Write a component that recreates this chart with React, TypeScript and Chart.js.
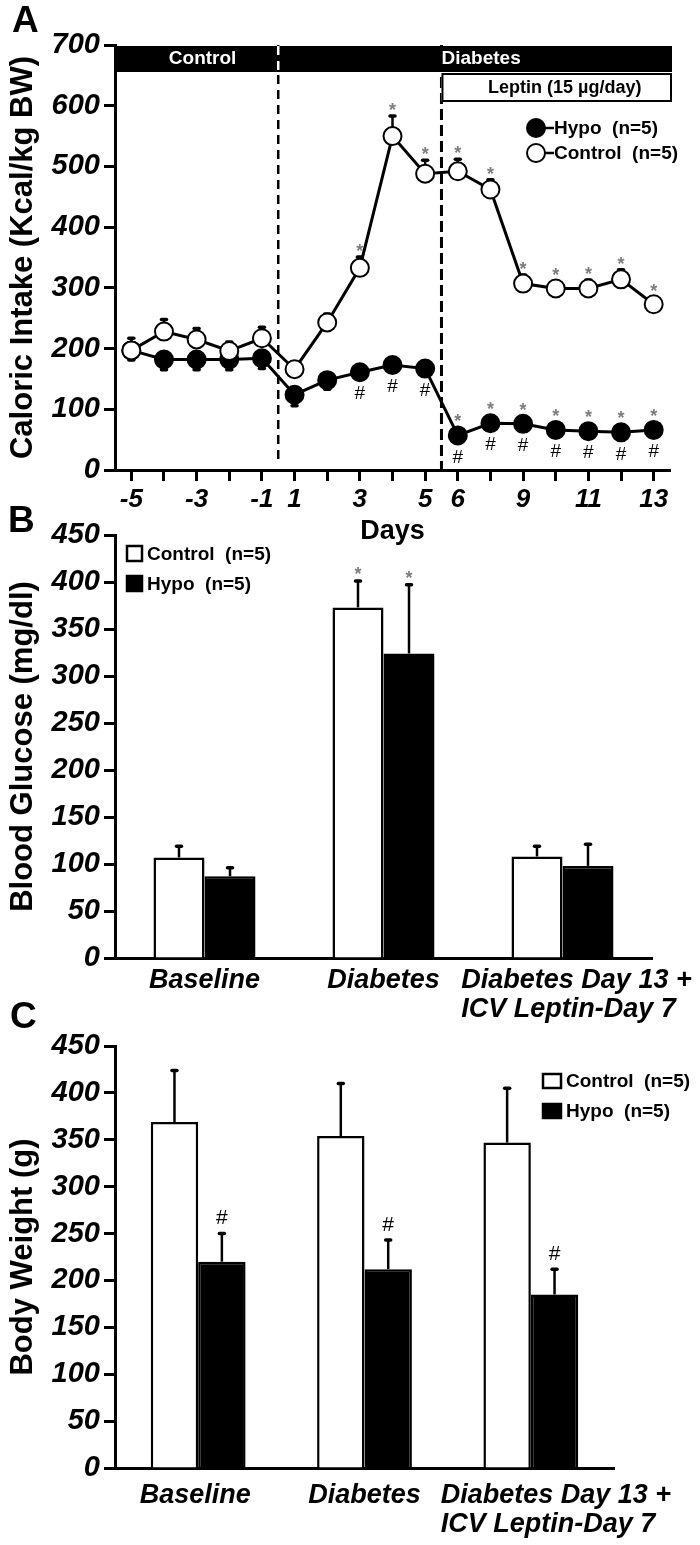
import React, { useEffect, useRef } from 'react';
import { Chart, registerables } from 'chart.js';

Chart.register(...registerables);

const FONT = '"Liberation Sans", Arial, Helvetica, sans-serif';

// ---------------- Panel A: caloric intake ----------------
const dayLabels = ['-5', '-4', '-3', '-2', '-1', '1', '2', '3', '4', '5', '6', '8', '9', '10', '11', '12', '13'];
const dayTickLabels = ['-5', '-3', '-1', '1', '3', '5', '6', '9', '11', '13'];
const diabetesAfterDay = '-1';
const leptinAfterDay = '5';
const hypoIntake = [197, 182, 182, 182, 184, 124, 148, 161, 173, 167, 57, 77, 76, 66, 64, 62, 66];
const hypoIntakeErr = [16, 17, 17, 17, 17, 18, 15, 12, 12, 12, 10, 10, 10, 10, 10, 10, 10];
const hypoIntakeStars = ['', '', '', '', '', '', '', '', '', '', '*', '*', '*', '*', '*', '*', '*'];
const hypoIntakeHashes = ['', '', '', '', '', '', '', '#', '#', '#', '#', '#', '#', '#', '#', '#', '#'];
const controlIntake = [197, 228, 215, 196, 217, 166, 243, 333, 550, 488, 492, 462, 307, 299, 299, 314, 273];
const controlIntakeErr = [20, 20, 18, 15, 18, 12, 14, 18, 33, 22, 20, 16, 14, 12, 14, 16, 12];
const controlIntakeStars = ['', '', '', '', '', '', '', '*', '*', '*', '*', '*', '*', '*', '*', '*', '*'];

// ---------------- Panel B: blood glucose ----------------
const groupLabels = [['Baseline'], ['Diabetes'], ['Diabetes Day 13 +', 'ICV Leptin-Day 7']];
const glucoseControl = [107, 373, 108];
const glucoseControlErr = [12, 28, 11];
const glucoseControlStars = ['', '*', ''];
const glucoseHypo = [87, 324, 98];
const glucoseHypoErr = [9, 73, 23];
const glucoseHypoStars = ['', '*', ''];

// ---------------- Panel C: body weight ----------------
const weightControl = [369, 354, 347];
const weightControlErr = [55, 56, 58];
const weightHypo = [220, 212, 185];
const weightHypoErr = [30, 31, 27];
const weightHypoHashes = ['#', '#', '#'];

const tickFont = (size: number) => ({ family: FONT, size, style: 'italic' as const, weight: 'bold' as const });

function yAxis(max: number, step: number, title: string) {
  return {
    min: 0,
    max,
    ticks: { stepSize: step, color: '#000', font: tickFont(29), padding: 4 },
    grid: { display: true, drawOnChartArea: false, drawTicks: true, tickLength: 11, tickWidth: 3, tickColor: '#000' },
    border: { display: true, color: '#000', width: 3 },
    title: {
      display: true,
      text: title,
      color: '#000',
      font: { family: FONT, size: 31, weight: 'bold' as const },
      padding: { top: 5, bottom: 0 },
    },
    afterFit: (s: any) => {
      s.width = 115;
    },
  };
}

function barXAxis(height: number) {
  return {
    grid: { display: false },
    border: { display: true, color: '#000', width: 3 },
    ticks: { display: false },
    afterFit: (s: any) => {
      s.height = height;
    },
  };
}

// error bars + significance marks, positioned through the y scale
const errorBarsPlugin = {
  id: 'errorBars',
  beforeDatasetsDraw(chart: any) {
    const { ctx } = chart;
    const ys = chart.scales.y;
    chart.data.datasets.forEach((ds: any, i: number) => {
      if (!ds.errors) return;
      const meta = chart.getDatasetMeta(i);
      meta.data.forEach((el: any, j: number) => {
        const v = ds.data[j];
        const e = ds.errors[j];
        const y0 = ys.getPixelForValue(v);
        const y1 = ys.getPixelForValue(v + ds.errorDir * e);
        ctx.save();
        ctx.strokeStyle = '#000';
        ctx.lineWidth = 2.5;
        ctx.beginPath();
        ctx.moveTo(el.x, y0);
        ctx.lineTo(el.x, y1);
        ctx.stroke();
        ctx.lineWidth = 3.5;
        ctx.lineCap = 'round';
        ctx.beginPath();
        ctx.moveTo(el.x - 2.5, y1);
        ctx.lineTo(el.x + 2.5, y1);
        ctx.stroke();
        ctx.restore();
      });
    });
  },
  afterDatasetsDraw(chart: any) {
    const { ctx } = chart;
    const ys = chart.scales.y;
    chart.data.datasets.forEach((ds: any, i: number) => {
      const meta = chart.getDatasetMeta(i);
      meta.data.forEach((el: any, j: number) => {
        const v = ds.data[j];
        const e = ds.errors ? ds.errors[j] : 0;
        const yPoint = ys.getPixelForValue(v);
        const yTop = ys.getPixelForValue(v + Math.max(0, ds.errorDir || 0) * e);
        const drawMark = (m: string, y: number) => {
          ctx.save();
          ctx.textAlign = 'center';
          ctx.textBaseline = 'middle';
          if (m === '*') {
            ctx.fillStyle = '#7d7d7d';
            ctx.font = `bold 18px ${FONT}`;
          } else {
            ctx.fillStyle = '#000';
            ctx.font = `${ds.hashSize || 19}px ${FONT}`;
          }
          ctx.fillText(m, el.x, y);
          ctx.restore();
        };
        const top = ds.topMarks && ds.topMarks[j];
        if (top) drawMark(top, yTop - ds.topMarkGap);
        const bottom = ds.bottomMarks && ds.bottomMarks[j];
        if (bottom) drawMark(bottom, yPoint + ds.bottomMarkGap);
      });
    });
  },
};

function drawLetter(ctx: CanvasRenderingContext2D, letter: string, x: number, y: number) {
  ctx.save();
  ctx.fillStyle = '#000';
  ctx.font = `bold 37px ${FONT}`;
  ctx.textAlign = 'left';
  ctx.textBaseline = 'alphabetic';
  ctx.fillText(letter, x, y);
  ctx.restore();
}

const panelAPlugin = {
  id: 'panelA',
  beforeDatasetsDraw(chart: any) {
    const { ctx, chartArea: ca } = chart;
    const xs = chart.scales.x;
    const iD = dayLabels.indexOf(diabetesAfterDay);
    const iL = dayLabels.indexOf(leptinAfterDay);
    const xD = (xs.getPixelForValue(iD) + xs.getPixelForValue(iD + 1)) / 2;
    const xL = (xs.getPixelForValue(iL) + xs.getPixelForValue(iL + 1)) / 2;
    ctx.save();
    ctx.strokeStyle = '#000';
    ctx.setLineDash([9, 6]);
    ctx.lineWidth = 2.5;
    ctx.beginPath();
    ctx.moveTo(xD, ca.top);
    ctx.lineTo(xD, ca.bottom - 5);
    ctx.stroke();
    ctx.setLineDash([11, 5]);
    ctx.lineWidth = 3;
    ctx.beginPath();
    ctx.moveTo(xL, ca.top);
    ctx.lineTo(xL, ca.bottom);
    ctx.stroke();
    ctx.restore();
  },
  afterDraw(chart: any) {
    const { ctx, chartArea: ca } = chart;
    const xs = chart.scales.x;
    const iD = dayLabels.indexOf(diabetesAfterDay);
    const iL = dayLabels.indexOf(leptinAfterDay);
    const xD = (xs.getPixelForValue(iD) + xs.getPixelForValue(iD + 1)) / 2;
    const xL = (xs.getPixelForValue(iL) + xs.getPixelForValue(iL + 1)) / 2;
    const barTop = ca.top + 1;
    const barH = 26;
    const right = ca.right + 2;
    ctx.save();
    // black phase bar
    ctx.fillStyle = '#000';
    ctx.fillRect(ca.left, barTop, right - ca.left, barH);
    ctx.strokeStyle = '#fff';
    ctx.lineWidth = 2.5;
    ctx.setLineDash([9, 6]);
    ctx.beginPath();
    ctx.moveTo(xD, barTop);
    ctx.lineTo(xD, barTop + barH);
    ctx.stroke();
    ctx.setLineDash([]);
    ctx.fillStyle = '#fff';
    ctx.font = `bold 19px ${FONT}`;
    ctx.textAlign = 'center';
    ctx.textBaseline = 'middle';
    ctx.fillText('Control', (ca.left + xD) / 2 + 6, barTop + barH / 2);
    ctx.fillText('Diabetes', (xD + right) / 2 + 6, barTop + barH / 2);
    // leptin box
    ctx.fillStyle = '#fff';
    ctx.fillRect(xL, barTop + barH + 2, right - xL, 27);
    ctx.strokeStyle = '#000';
    ctx.lineWidth = 2;
    ctx.strokeRect(xL + 1, barTop + barH + 2, right - xL - 2, 27);
    ctx.fillStyle = '#000';
    ctx.font = `bold 18px ${FONT}`;
    ctx.fillText('Leptin (15 \u00b5g/day)', (xL + right) / 2 + 8, barTop + barH + 16);
    // legend
    const cx = ca.right - 134;
    chart.data.datasets.forEach((ds: any, i: number) => {
      const cy = ca.top + 83 + i * 25;
      ctx.strokeStyle = '#000';
      ctx.lineWidth = 2.5;
      ctx.beginPath();
      ctx.moveTo(cx, cy);
      ctx.lineTo(cx + 18, cy);
      ctx.stroke();
      ctx.beginPath();
      ctx.arc(cx, cy, 9, 0, Math.PI * 2);
      ctx.fillStyle = ds.pointBackgroundColor;
      ctx.fill();
      ctx.lineWidth = 2;
      ctx.stroke();
      ctx.fillStyle = '#000';
      ctx.font = `bold 19px ${FONT}`;
      ctx.textAlign = 'left';
      ctx.fillText(ds.label, cx + 18, cy + 1);
    });
    ctx.restore();
    drawLetter(ctx, 'A', 12, 32);
  },
};

// bar panels: legend, panel letter and the category labels (placed through the x scale)
function barPanelPlugin(
  id: string,
  letter: string,
  letterX: number,
  letterY: number,
  lx: number,
  ly: number,
  bw: number,
  bh: number,
  rowGap: number,
  labelBaseline: number,
  labelShift: number[],
) {
  return {
    id,
    afterDraw(chart: any) {
      const { ctx, chartArea: ca } = chart;
      const xs = chart.scales.x;
      ctx.save();
      // category labels
      ctx.fillStyle = '#000';
      ctx.font = `italic bold 27px ${FONT}`;
      ctx.textBaseline = 'alphabetic';
      ctx.textAlign = 'left';
      (chart.data.labels as any[]).forEach((lab: any, i: number) => {
        const lines: string[] = Array.isArray(lab) ? lab : [lab];
        const w = Math.max(...lines.map((l) => ctx.measureText(l).width));
        const left = xs.getPixelForValue(i) - w / 2 + labelShift[i];
        lines.forEach((l, k) => ctx.fillText(l, left, ca.bottom + labelBaseline + k * 29));
      });
      // legend
      chart.data.datasets.forEach((ds: any, i: number) => {
        const x = ca.left + lx;
        const y = ca.top + ly + i * rowGap;
        ctx.fillStyle = ds.backgroundColor;
        ctx.fillRect(x, y, bw, bh);
        ctx.strokeStyle = '#000';
        ctx.lineWidth = 2.5;
        ctx.strokeRect(x + 1, y + 1, bw - 2, bh - 2);
        ctx.fillStyle = '#000';
        ctx.font = `bold 19px ${FONT}`;
        ctx.textAlign = 'left';
        ctx.textBaseline = 'middle';
        ctx.fillText(ds.label, x + bw + 4, y + bh / 2 + 1);
      });
      ctx.restore();
      drawLetter(ctx, letter, letterX, letterY);
    },
  };
}

export default function App() {
  const refA = useRef<HTMLCanvasElement>(null);
  const refB = useRef<HTMLCanvasElement>(null);
  const refC = useRef<HTMLCanvasElement>(null);

  useEffect(() => {
    const lineStyle = { borderColor: '#000', borderWidth: 3, pointRadius: 9, pointHoverRadius: 9, pointBorderWidth: 2, pointBorderColor: '#000', tension: 0 };
    const chartA = new Chart(refA.current as HTMLCanvasElement, {
      type: 'line',
      data: {
        labels: dayLabels,
        datasets: [
          {
            label: 'Hypo  (n=5)',
            data: hypoIntake,
            ...lineStyle,
            pointBackgroundColor: '#000',
            order: 2,
            errors: hypoIntakeErr,
            errorDir: -1,
            topMarks: hypoIntakeStars,
            topMarkGap: 13,
            bottomMarks: hypoIntakeHashes,
            bottomMarkGap: 22,
          } as any,
          {
            label: 'Control  (n=5)',
            data: controlIntake,
            ...lineStyle,
            pointBackgroundColor: '#fff',
            order: 1,
            errors: controlIntakeErr,
            errorDir: 1,
            topMarks: controlIntakeStars,
            topMarkGap: 5,
          } as any,
        ],
      },
      options: {
        animation: false,
        responsive: false,
        devicePixelRatio: 1,
        layout: { padding: { left: 0, right: 30, top: 45, bottom: 0 } },
        plugins: { legend: { display: false }, tooltip: { enabled: false } },
        scales: {
          x: {
            type: 'category',
            offset: true,
            grid: { display: true, drawOnChartArea: false, drawTicks: true, tickLength: 11, tickWidth: 3, tickColor: '#000', offset: false },
            border: { display: true, color: '#000', width: 3 },
            ticks: {
              autoSkip: false,
              maxRotation: 0,
              minRotation: 0,
              padding: 3,
              color: '#000',
              font: tickFont(26),
              callback: (_v: any, i: number) => (dayTickLabels.includes(dayLabels[i]) ? dayLabels[i] : ''),
            },
            title: { display: true, text: 'Days', color: '#000', font: { family: FONT, size: 27, weight: 'bold' }, padding: 0 },
            afterFit: (s: any) => {
              s.height = 78;
            },
          },
          y: yAxis(700, 100, 'Caloric Intake (Kcal/kg BW)'),
        },
      } as any,
      plugins: [errorBarsPlugin, panelAPlugin],
    });

    const barStyle = { borderColor: '#000', borderWidth: 2.5, borderSkipped: 'bottom', categoryPercentage: 0.57, barPercentage: 1.0 };
    const chartB = new Chart(refB.current as HTMLCanvasElement, {
      type: 'bar',
      data: {
        labels: groupLabels,
        datasets: [
          {
            label: 'Control  (n=5)',
            data: glucoseControl,
            backgroundColor: '#fff',
            ...barStyle,
            errors: glucoseControlErr,
            errorDir: 1,
            topMarks: glucoseControlStars,
            topMarkGap: 6,
          } as any,
          {
            label: 'Hypo  (n=5)',
            data: glucoseHypo,
            backgroundColor: '#000',
            ...barStyle,
            errors: glucoseHypoErr,
            errorDir: 1,
            topMarks: glucoseHypoStars,
            topMarkGap: 6,
          } as any,
        ],
      },
      options: {
        animation: false,
        responsive: false,
        devicePixelRatio: 1,
        layout: { padding: { left: 0, right: 48, top: 35, bottom: 0 } },
        plugins: { legend: { display: false }, tooltip: { enabled: false } },
        scales: {
          x: barXAxis(87),
          y: yAxis(450, 50, 'Blood Glucose (mg/dl)'),
        },
      } as any,
      plugins: [errorBarsPlugin, barPanelPlugin('panelB', 'B', 8, 32, 11, 10, 17, 17, 30, 30, [0, 0, 14])],
    });

    const chartC = new Chart(refC.current as HTMLCanvasElement, {
      type: 'bar',
      data: {
        labels: groupLabels,
        datasets: [
          {
            label: 'Control  (n=5)',
            data: weightControl,
            backgroundColor: '#fff',
            ...barStyle,
            errors: weightControlErr,
            errorDir: 1,
          } as any,
          {
            label: 'Hypo  (n=5)',
            data: weightHypo,
            backgroundColor: '#000',
            ...barStyle,
            errors: weightHypoErr,
            errorDir: 1,
            topMarks: weightHypoHashes,
            topMarkGap: 15,
            hashSize: 21,
          } as any,
        ],
      },
      options: {
        animation: false,
        responsive: false,
        devicePixelRatio: 1,
        layout: { padding: { left: 0, right: 86, top: 51, bottom: 0 } },
        plugins: { legend: { display: false }, tooltip: { enabled: false } },
        scales: {
          x: barXAxis(77),
          y: yAxis(450, 50, 'Body Weight (g)'),
        },
      } as any,
      plugins: [errorBarsPlugin, barPanelPlugin('panelC', 'C', 10, 33, 427, 27, 20, 16, 30, 35, [-3, 0, 25])],
    });

    return () => {
      chartA.destroy();
      chartB.destroy();
      chartC.destroy();
    };
  }, []);

  return (
    <div style={{ position: 'absolute', left: 0, top: 0, width: 700, height: 1545, background: '#fff', overflow: 'hidden' }}>
      <canvas ref={refA} width={700} height={548} style={{ position: 'absolute', left: 0, top: 0 }} />
      <canvas ref={refB} width={700} height={545} style={{ position: 'absolute', left: 0, top: 500 }} />
      <canvas ref={refC} width={700} height={550} style={{ position: 'absolute', left: 0, top: 995 }} />
    </div>
  );
}
